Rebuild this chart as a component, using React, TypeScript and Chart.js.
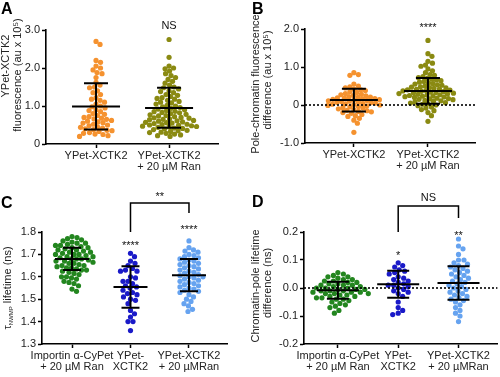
import React, { useEffect, useRef } from 'react';
import { Chart, registerables } from 'chart.js';
Chart.register(...registerables);

const FONT = "'Liberation Sans', Arial, Helvetica, sans-serif";

// ---------- Panel A ----------
const A_CATEGORIES = [['YPet-XCTK2'], ['YPet-XCTK2', '+ 20 µM Ran']];
const A_TICKS = [0, 1, 2, 3];
const A_TICK_LABELS = ['0', '1.0', '2.0', '3.0'];
const A_ORANGE = [2.70, 2.62, 2.20, 2.15, 2.05, 2.00, 1.95, 1.88, 1.85, 1.75, 1.62, 1.55, 1.50, 1.48, 1.40, 1.35, 1.30, 1.22, 1.18, 1.15, 1.10, 1.05, 1.00, 0.98, 0.95, 0.90, 0.88, 0.85, 0.80, 0.78, 0.75, 0.72, 0.70, 0.68, 0.66, 0.65, 0.62, 0.60, 0.58, 0.56, 0.55, 0.52, 0.50, 0.48, 0.45, 0.44, 0.42, 0.40, 0.38, 0.36, 0.35, 0.33, 0.30, 0.28, 0.26, 0.25, 0.22, 0.20];
const A_OLIVE = [2.75, 2.28, 2.05, 2.00, 1.98, 1.92, 1.85, 1.80, 1.75, 1.70, 1.65, 1.60, 1.55, 1.50, 1.48, 1.45, 1.40, 1.38, 1.35, 1.30, 1.28, 1.25, 1.22, 1.20, 1.18, 1.15, 1.12, 1.10, 1.08, 1.05, 1.02, 1.00, 0.98, 0.96, 0.94, 0.92, 0.90, 0.88, 0.86, 0.85, 0.83, 0.82, 0.80, 0.78, 0.77, 0.75, 0.74, 0.72, 0.70, 0.69, 0.68, 0.66, 0.65, 0.64, 0.62, 0.61, 0.60, 0.58, 0.57, 0.56, 0.55, 0.54, 0.52, 0.51, 0.50, 0.49, 0.48, 0.47, 0.46, 0.45, 0.44, 0.42, 0.41, 0.40, 0.38, 0.36, 0.35, 0.33, 0.31, 0.30, 0.28, 0.26, 0.24, 0.22, 0.20];
const A_MEAN = [0.99, 0.95];
const A_SD_LOW = [0.38, 0.43];
const A_SD_HIGH = [1.60, 1.48];

// ---------- Panel B ----------
const B_CATEGORIES = [['YPet-XCTK2'], ['YPet-XCTK2', '+ 20 µM Ran']];
const B_TICKS = [-1, 0, 1, 2];
const B_TICK_LABELS = ['-1.0', '0', '1.0', '2.0'];
const B_ORANGE = [0.85, 0.80, 0.78, 0.55, 0.50, 0.48, 0.45, 0.42, 0.40, 0.38, 0.35, 0.33, 0.30, 0.28, 0.27, 0.25, 0.24, 0.22, 0.21, 0.20, 0.19, 0.18, 0.17, 0.16, 0.15, 0.14, 0.13, 0.12, 0.11, 0.10, 0.09, 0.08, 0.07, 0.06, 0.05, 0.04, 0.03, 0.02, 0.01, 0.00, -0.01, -0.02, -0.04, -0.05, -0.07, -0.08, -0.10, -0.12, -0.14, -0.15, -0.17, -0.18, -0.20, -0.22, -0.25, -0.28, -0.30, -0.35, -0.40, -0.48, -0.72];
const B_OLIVE = [1.70, 1.35, 1.28, 1.15, 1.10, 1.05, 1.02, 0.95, 0.90, 0.85, 0.80, 0.78, 0.75, 0.72, 0.70, 0.68, 0.66, 0.64, 0.62, 0.60, 0.58, 0.56, 0.55, 0.53, 0.52, 0.50, 0.48, 0.47, 0.46, 0.45, 0.44, 0.42, 0.41, 0.40, 0.39, 0.38, 0.37, 0.36, 0.35, 0.34, 0.33, 0.32, 0.31, 0.30, 0.29, 0.28, 0.27, 0.26, 0.25, 0.24, 0.23, 0.22, 0.21, 0.20, 0.18, 0.17, 0.16, 0.15, 0.14, 0.12, 0.11, 0.10, 0.08, 0.06, 0.05, 0.03, 0.02, 0.00, -0.02, -0.05, -0.08, -0.12, -0.15, -0.20, -0.28, -0.43];
const B_MEAN = [0.13, 0.37];
const B_SD_LOW = [-0.17, 0.03];
const B_SD_HIGH = [0.43, 0.71];

// ---------- Panel C ----------
const CD_CATEGORIES = [['Importin α-CyPet', '+ 20 µM Ran'], ['YPet-', 'XCTK2'], ['YPet-XCTK2', '+ 20 µMRan']];
const C_TICKS = [1.3, 1.4, 1.5, 1.6, 1.7, 1.8];
const C_TICK_LABELS = ['1.3', '1.4', '1.5', '1.6', '1.7', '1.8'];
const C_GREEN = [1.78, 1.775, 1.77, 1.765, 1.76, 1.755, 1.75, 1.75, 1.745, 1.74, 1.74, 1.735, 1.73, 1.73, 1.725, 1.72, 1.72, 1.715, 1.71, 1.71, 1.705, 1.70, 1.70, 1.70, 1.695, 1.69, 1.69, 1.685, 1.68, 1.68, 1.68, 1.675, 1.67, 1.67, 1.665, 1.66, 1.66, 1.655, 1.65, 1.65, 1.645, 1.64, 1.64, 1.635, 1.63, 1.63, 1.625, 1.62, 1.615, 1.61, 1.60, 1.60, 1.595, 1.59, 1.58, 1.575, 1.57, 1.56, 1.545, 1.535];
const C_BLUE = [1.705, 1.69, 1.67, 1.66, 1.65, 1.637, 1.63, 1.625, 1.625, 1.60, 1.595, 1.58, 1.58, 1.57, 1.56, 1.555, 1.55, 1.54, 1.53, 1.525, 1.52, 1.51, 1.50, 1.495, 1.48, 1.45, 1.435, 1.42, 1.40, 1.40, 1.36];
const C_LIGHT = [1.76, 1.73, 1.72, 1.715, 1.71, 1.70, 1.695, 1.69, 1.685, 1.68, 1.675, 1.67, 1.665, 1.66, 1.655, 1.65, 1.645, 1.64, 1.635, 1.63, 1.625, 1.62, 1.615, 1.61, 1.605, 1.60, 1.60, 1.595, 1.59, 1.585, 1.58, 1.575, 1.57, 1.565, 1.56, 1.555, 1.55, 1.545, 1.54, 1.535, 1.53, 1.52, 1.51, 1.50, 1.49, 1.48, 1.47, 1.455, 1.445];
const C_MEAN = [1.68, 1.555, 1.607];
const C_SD_LOW = [1.63, 1.462, 1.535];
const C_SD_HIGH = [1.73, 1.647, 1.68];

// ---------- Panel D ----------
const D_TICKS = [-0.2, -0.1, 0, 0.1, 0.2];
const D_TICK_LABELS = ['-0.2', '-0.1', '0.0', '0.1', '0.2'];
const D_GREEN = [0.055, 0.05, 0.045, 0.04, 0.04, 0.035, 0.03, 0.03, 0.025, 0.025, 0.02, 0.02, 0.015, 0.015, 0.01, 0.01, 0.01, 0.005, 0.005, 0.0, 0.0, 0.0, -0.005, -0.005, -0.005, -0.01, -0.01, -0.01, -0.015, -0.015, -0.015, -0.02, -0.02, -0.02, -0.025, -0.025, -0.03, -0.03, -0.035, -0.035, -0.04, -0.04, -0.045, -0.05, -0.055, -0.06, -0.065, -0.07, -0.08, -0.09];
const D_BLUE = [0.09, 0.08, 0.075, 0.065, 0.06, 0.055, 0.05, 0.04, 0.035, 0.03, 0.025, 0.02, 0.015, 0.01, 0.01, 0.005, 0.0, -0.005, -0.01, -0.015, -0.02, -0.03, -0.05, -0.07, -0.08, -0.09, -0.095];
const D_LIGHT = [0.175, 0.15, 0.14, 0.12, 0.10, 0.10, 0.09, 0.085, 0.08, 0.075, 0.07, 0.065, 0.06, 0.055, 0.05, 0.045, 0.04, 0.035, 0.03, 0.025, 0.02, 0.015, 0.01, 0.005, 0.0, -0.005, -0.01, -0.015, -0.02, -0.025, -0.03, -0.035, -0.04, -0.045, -0.05, -0.06, -0.07, -0.08, -0.09, -0.10, -0.12];
const D_MEAN = [-0.008, 0.013, 0.018];
const D_SD_LOW = [-0.038, -0.035, -0.042];
const D_SD_HIGH = [0.022, 0.062, 0.078];

const ORANGE = '#F5922F';
const OLIVE = '#8A8A12';
const GREEN = '#23861F';
const BLUE = '#1A1AC8';
const LIGHT = '#66A3F0';

type Seg = { text: string; size: number; shift?: number };
type Cfg = {
  left: number; top: number; width: number; height: number;
  padTop: number; padRight: number; yAxisW: number; xAxisH: number;
  xMin: number; xMax: number; yMin: number; yMax: number;
  yTicks: number[]; yTickLabels: string[]; categories: string[][];
  groups: { values: number[]; color: string }[];
  means: number[]; lows: number[]; highs: number[]; meanHalf: number; capHalf: number;
  zeroLine: boolean; diam: number;
  letter: { text: string; x: number; y: number };
  titleLines: { segs: Seg[]; x: number; cy: number }[];
  sig: { text: string; x: number; y: number }[];
  bracket?: { from: number; to: number; y: number; leftEnd: number; rightEnd: number };
};

function swarm(values: number[], pxPerY: number, pxPerX: number, diam: number): number[] {
  const order = values.map((_, i) => i).sort((a, b) => values[b] - values[a]);
  const placed: { x: number; y: number }[] = [];
  const out = new Array(values.length).fill(0);
  for (const i of order) {
    const y = values[i] * pxPerY;
    let chosen = 0;
    for (let k = 0; k < 600; k++) {
      const step = Math.ceil(k / 2) * 0.5;
      const cand = k % 2 === 1 ? step : -step;
      let ok = true;
      for (const p of placed) {
        const dx = p.x - cand, dy = p.y - y;
        if (dx * dx + dy * dy < diam * diam) { ok = false; break; }
      }
      if (ok) { chosen = cand; break; }
    }
    placed.push({ x: chosen, y });
    out[i] = chosen / pxPerX;
  }
  return out;
}

function makePlugin(cfg: Cfg) {
  return {
    id: 'annot',
    afterDatasetsDraw(chart: any) {
      const ctx = chart.ctx, xs = chart.scales.x, ys = chart.scales.y, ca = chart.chartArea;
      ctx.save();
      if (cfg.zeroLine) {
        const y0 = ys.getPixelForValue(0);
        ctx.strokeStyle = '#000';
        ctx.lineWidth = 1.6;
        ctx.setLineDash([2, 2]);
        ctx.beginPath();
        ctx.moveTo(ca.left, y0);
        ctx.lineTo(ca.right, y0);
        ctx.stroke();
        ctx.setLineDash([]);
      }
      ctx.strokeStyle = '#000';
      ctx.lineWidth = 2;
      cfg.means.forEach((m, i) => {
        const cx = xs.getPixelForValue(i);
        const ym = ys.getPixelForValue(m), yl = ys.getPixelForValue(cfg.lows[i]), yh = ys.getPixelForValue(cfg.highs[i]);
        ctx.beginPath();
        ctx.moveTo(cx - cfg.meanHalf, ym); ctx.lineTo(cx + cfg.meanHalf, ym);
        ctx.moveTo(cx, yl); ctx.lineTo(cx, yh);
        ctx.moveTo(cx - cfg.capHalf, yl); ctx.lineTo(cx + cfg.capHalf, yl);
        ctx.moveTo(cx - cfg.capHalf, yh); ctx.lineTo(cx + cfg.capHalf, yh);
        ctx.stroke();
      });
      ctx.restore();
    },
    afterDraw(chart: any) {
      const ctx = chart.ctx, xs = chart.scales.x;
      ctx.save();
      ctx.fillStyle = '#000';
      ctx.textBaseline = 'alphabetic';
      ctx.font = `bold 16px ${FONT}`;
      ctx.textAlign = 'left';
      ctx.fillText(cfg.letter.text, cfg.letter.x, cfg.letter.y);
      ctx.fillStyle = '#222';
      cfg.titleLines.forEach((line) => {
        let total = 0;
        line.segs.forEach((s) => { ctx.font = `${s.size}px ${FONT}`; total += ctx.measureText(s.text).width; });
        ctx.save();
        ctx.translate(line.x, line.cy);
        ctx.rotate(-Math.PI / 2);
        ctx.textBaseline = 'middle';
        ctx.textAlign = 'left';
        let pos = -total / 2;
        line.segs.forEach((s) => {
          ctx.font = `${s.size}px ${FONT}`;
          ctx.fillText(s.text, pos, s.shift || 0);
          pos += ctx.measureText(s.text).width;
        });
        ctx.restore();
      });
      ctx.fillStyle = '#111';
      ctx.font = `11px ${FONT}`;
      ctx.textAlign = 'center';
      ctx.textBaseline = 'alphabetic';
      cfg.sig.forEach((s) => {
        ctx.fillText(s.text, xs.getPixelForValue(s.x), s.y);
      });
      if (cfg.bracket) {
        const b = cfg.bracket;
        const x1 = xs.getPixelForValue(b.from), x2 = xs.getPixelForValue(b.to);
        ctx.strokeStyle = '#000';
        ctx.lineWidth = 1.5;
        ctx.beginPath();
        ctx.moveTo(x1, b.leftEnd);
        ctx.lineTo(x1, b.y);
        ctx.lineTo(x2, b.y);
        ctx.lineTo(x2, b.rightEnd);
        ctx.stroke();
      }
      ctx.restore();
    },
  };
}

function Panel({ cfg }: { cfg: Cfg }) {
  const ref = useRef<HTMLCanvasElement | null>(null);
  useEffect(() => {
    if (!ref.current) return;
    const areaW = cfg.width - cfg.padRight - cfg.yAxisW;
    const areaH = cfg.height - cfg.padTop - cfg.xAxisH;
    const pxPerX = areaW / (cfg.xMax - cfg.xMin);
    const pxPerY = areaH / (cfg.yMax - cfg.yMin);
    const datasets = cfg.groups.map((g, gi) => {
      const offs = swarm(g.values, pxPerY, pxPerX, cfg.diam);
      return {
        data: g.values.map((v, i) => ({ x: gi + offs[i], y: v })),
        backgroundColor: g.color,
        borderWidth: 0,
        pointRadius: 2.6,
        pointHoverRadius: 2.6,
      };
    });
    const chart = new Chart(ref.current, {
      type: 'scatter',
      data: { datasets },
      plugins: [makePlugin(cfg)],
      options: {
        animation: false,
        responsive: false,
        events: [],
        layout: { padding: { top: cfg.padTop, right: cfg.padRight, left: 0, bottom: 0 } },
        plugins: { legend: { display: false }, tooltip: { enabled: false } },
        scales: {
          x: {
            type: 'linear',
            min: cfg.xMin,
            max: cfg.xMax,
            afterBuildTicks: (s: any) => { s.ticks = cfg.categories.map((_, i) => ({ value: i })); },
            afterFit: (s: any) => { s.height = cfg.xAxisH; },
            grid: { display: true, drawOnChartArea: false, drawTicks: true, tickLength: 4, tickWidth: 1.5, tickColor: '#000' },
            border: { display: true, color: '#000', width: 1.6 },
            ticks: {
              autoSkip: false, maxRotation: 0, minRotation: 0, padding: 2,
              color: '#222', font: { family: FONT, size: 11, lineHeight: 1.05 },
              callback: (v: any) => cfg.categories[Math.round(v)],
            },
          },
          y: {
            type: 'linear',
            min: cfg.yMin,
            max: cfg.yMax,
            afterBuildTicks: (s: any) => { s.ticks = cfg.yTicks.map((v) => ({ value: v })); },
            afterFit: (s: any) => { s.width = cfg.yAxisW; },
            grid: { display: true, drawOnChartArea: false, drawTicks: true, tickLength: 4, tickWidth: 1.5, tickColor: '#000' },
            border: { display: true, color: '#000', width: 1.6 },
            ticks: {
              padding: 2, color: '#222', font: { family: FONT, size: 11 },
              callback: (_v: any, i: number) => cfg.yTickLabels[i],
            },
          },
        },
      } as any,
    });
    return () => chart.destroy();
  }, [cfg]);
  return (
    <canvas
      ref={ref}
      width={cfg.width}
      height={cfg.height}
      style={{ position: 'absolute', left: cfg.left, top: cfg.top, width: cfg.width, height: cfg.height }}
    />
  );
}

const PANEL_A: Cfg = {
  left: 0, top: 0, width: 250, height: 185,
  padTop: 30, padRight: 32, yAxisW: 46, xAxisH: 41,
  xMin: -0.685, xMax: 1.67, yMin: 0, yMax: 3,
  yTicks: A_TICKS, yTickLabels: A_TICK_LABELS, categories: A_CATEGORIES,
  groups: [{ values: A_ORANGE, color: ORANGE }, { values: A_OLIVE, color: OLIVE }],
  means: A_MEAN, lows: A_SD_LOW, highs: A_SD_HIGH, meanHalf: 24, capHalf: 12,
  zeroLine: false, diam: 4.7,
  letter: { text: 'A', x: 1, y: 14 },
  titleLines: [
    { segs: [{ text: 'YPet-XCTK2', size: 11 }], x: 6, cy: 66 },
    { segs: [{ text: 'fluorescence (au x 10⁵)', size: 11 }], x: 18, cy: 75 },
  ],
  sig: [{ text: 'NS', x: 1, y: 29 }],
};

const PANEL_B: Cfg = {
  left: 250, top: 0, width: 250, height: 185,
  padTop: 29, padRight: 25, yAxisW: 55, xAxisH: 42,
  xMin: -0.66, xMax: 1.635, yMin: -1, yMax: 2,
  yTicks: B_TICKS, yTickLabels: B_TICK_LABELS, categories: B_CATEGORIES,
  groups: [{ values: B_ORANGE, color: ORANGE }, { values: B_OLIVE, color: OLIVE }],
  means: B_MEAN, lows: B_SD_LOW, highs: B_SD_HIGH, meanHalf: 24, capHalf: 12,
  zeroLine: true, diam: 4.5,
  letter: { text: 'B', x: 2, y: 14 },
  titleLines: [
    { segs: [{ text: 'Pole-chromatin fluorescence', size: 11 }], x: 6, cy: 84 },
    { segs: [{ text: 'difference (au x 10⁵)', size: 11 }], x: 18, cy: 80 },
  ],
  sig: [{ text: '****', x: 1, y: 31 }],
};

const PANEL_C: Cfg = {
  left: 0, top: 185, width: 250, height: 192,
  padTop: 47, padRight: 23, yAxisW: 42, xAxisH: 33,
  xMin: -0.513, xMax: 2.65, yMin: 1.3, yMax: 1.8,
  yTicks: C_TICKS, yTickLabels: C_TICK_LABELS, categories: CD_CATEGORIES,
  groups: [{ values: C_GREEN, color: GREEN }, { values: C_BLUE, color: BLUE }, { values: C_LIGHT, color: LIGHT }],
  means: C_MEAN, lows: C_SD_LOW, highs: C_SD_HIGH, meanHalf: 17, capHalf: 9,
  zeroLine: false, diam: 5.0,
  letter: { text: 'C', x: 1, y: 23 },
  titleLines: [
    { segs: [{ text: 'τ', size: 11 }, { text: 'NWMP', size: 6, shift: 3 }, { text: ' lifetime (ns)', size: 11 }], x: 8, cy: 103 },
  ],
  sig: [
    { text: '**', x: 1.5, y: 15 },
    { text: '****', x: 1, y: 64 },
    { text: '****', x: 2, y: 48 },
  ],
  bracket: { from: 1, to: 2, y: 18, leftEnd: 47, rightEnd: 28 },
};

const PANEL_D: Cfg = {
  left: 250, top: 185, width: 250, height: 192,
  padTop: 47, padRight: 2, yAxisW: 54, xAxisH: 33,
  xMin: -0.562, xMax: 2.645, yMin: -0.2, yMax: 0.2,
  yTicks: D_TICKS, yTickLabels: D_TICK_LABELS, categories: CD_CATEGORIES,
  groups: [{ values: D_GREEN, color: GREEN }, { values: D_BLUE, color: BLUE }, { values: D_LIGHT, color: LIGHT }],
  means: D_MEAN, lows: D_SD_LOW, highs: D_SD_HIGH, meanHalf: 21, capHalf: 11,
  zeroLine: true, diam: 5.2,
  letter: { text: 'D', x: 2, y: 22 },
  titleLines: [
    { segs: [{ text: 'Chromatin-pole lifetime', size: 11 }], x: 6, cy: 101 },
    { segs: [{ text: 'difference (ns)', size: 11 }], x: 18, cy: 98 },
  ],
  sig: [
    { text: 'NS', x: 1.5, y: 16 },
    { text: '*', x: 1, y: 74 },
    { text: '**', x: 2, y: 54 },
  ],
  bracket: { from: 1, to: 2, y: 21, leftEnd: 47, rightEnd: 33 },
};

export default function App() {
  return (
    <div style={{ position: 'absolute', left: 0, top: 0, width: 500, height: 377, background: '#fff', overflow: 'hidden' }}>
      <Panel cfg={PANEL_A} />
      <Panel cfg={PANEL_B} />
      <Panel cfg={PANEL_C} />
      <Panel cfg={PANEL_D} />
    </div>
  );
}
